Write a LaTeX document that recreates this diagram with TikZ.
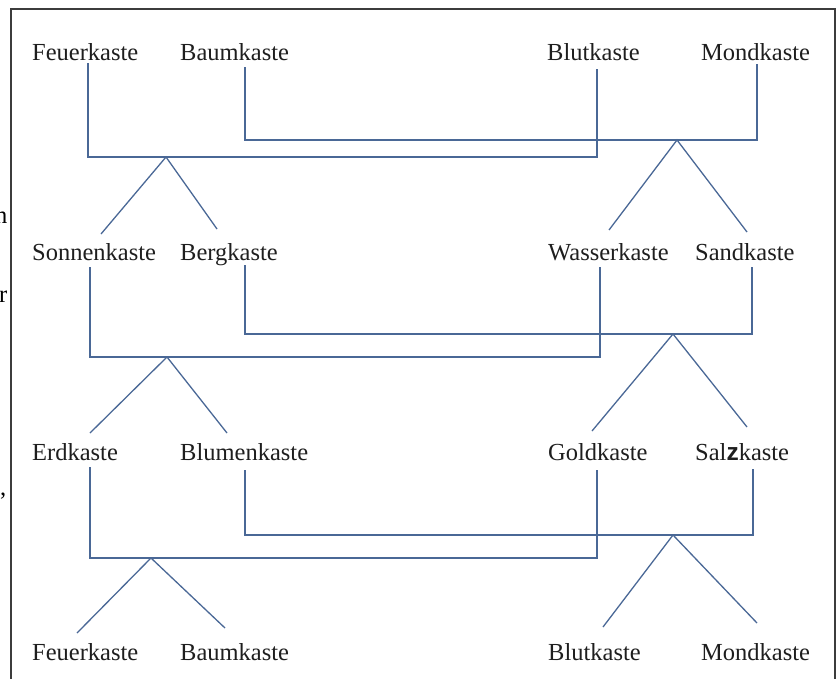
\documentclass[tikz,border=0pt]{standalone}
\usepackage{fontspec}
\setmainfont{Liberation Serif}
\newfontfamily\zfont{Liberation Sans}
\definecolor{linec}{RGB}{74,104,150}
\definecolor{framec}{RGB}{60,60,60}
\definecolor{txtc}{RGB}{30,30,30}
\begin{document}
\begin{tikzpicture}[x=1pt,y=-1pt,
  lbl/.style={anchor=base west, inner sep=0pt, font=\fontsize{24.5}{28}\selectfont, text=txtc},
  edgeglyph/.style={anchor=base east, inner sep=0pt, font=\fontsize{24.5}{28}\selectfont, text=black},
  conn/.style={draw=linec, line width=1.3pt, line join=miter}]
\useasboundingbox (0,0) rectangle (840,678);
\clip (0,0) rectangle (840,678);
% frame
\coordinate (fbl) at (11,690);
\coordinate (ftl) at (11,9);
\coordinate (ftr) at (835,9);
\coordinate (fbr) at (835,690);
\draw[framec, line width=1.2pt] (fbl) -- (ftl) -- (ftr) -- (fbr);
% cut-off glyphs at the left edge
\node[edgeglyph] (g1) at (7.5,223) {n};
\node[edgeglyph] (g2) at (7.5,302) {r};
\node[edgeglyph] (g3) at (6.5,495) {,};
% row 1
\node[lbl] (r1a) at (32,60) {Feuerkaste};
\node[lbl] (r1b) at (180,60) {Baumkaste};
\node[lbl] (r1c) at (547,60) {Blutkaste};
\node[lbl] (r1d) at (701,60) {Mondkaste};
% row 2
\node[lbl] (r2a) at (32,260) {Sonnenkaste};
\node[lbl] (r2b) at (180,260) {Bergkaste};
\node[lbl] (r2c) at (548,260) {Wasserkaste};
\node[lbl] (r2d) at (695,260) {Sandkaste};
% row 3
\node[lbl] (r3a) at (32,460) {Erdkaste};
\node[lbl] (r3b) at (180,460) {Blumenkaste};
\node[lbl] (r3c) at (548,460) {Goldkaste};
\node[lbl] (r3d) at (695,460) {Sal{\zfont\bfseries z}kaste};
% row 4
\node[lbl] (r4a) at (32,660) {Feuerkaste};
\node[lbl] (r4b) at (180,660) {Baumkaste};
\node[lbl] (r4c) at (548,660) {Blutkaste};
\node[lbl] (r4d) at (701,660) {Mondkaste};

% ---- row 1 connectors
\coordinate (p1a) at (88,63);   \coordinate (q1a) at (88,157);
\coordinate (p1c) at (597,69);  \coordinate (q1c) at (597,157);
\coordinate (L1) at (166,157);
\coordinate (p1b) at (245,67);  \coordinate (q1b) at (245,140);
\coordinate (p1d) at (757,64);  \coordinate (q1d) at (757,140);
\coordinate (R1) at (677,140);
\draw[conn] (p1a) -- (q1a) -- (q1c) -- (p1c);
\draw[conn] (p1b) -- (q1b) -- (q1d) -- (p1d);
\coordinate (e1a) at (101,234); \coordinate (e1b) at (217,229);
\coordinate (e1c) at (609,230); \coordinate (e1d) at (747,232);
\draw[conn] (e1a) -- (L1) -- (e1b);
\draw[conn] (e1c) -- (R1) -- (e1d);

% ---- row 2 connectors
\coordinate (p2a) at (90,267);  \coordinate (q2a) at (90,357);
\coordinate (p2c) at (600,267); \coordinate (q2c) at (600,357);
\coordinate (L2) at (167,357);
\coordinate (p2b) at (245,265); \coordinate (q2b) at (245,334);
\coordinate (p2d) at (752,267); \coordinate (q2d) at (752,334);
\coordinate (R2) at (673,334);
\draw[conn] (p2a) -- (q2a) -- (q2c) -- (p2c);
\draw[conn] (p2b) -- (q2b) -- (q2d) -- (p2d);
\coordinate (e2a) at (90,433);  \coordinate (e2b) at (227,433);
\coordinate (e2c) at (592,431); \coordinate (e2d) at (747,427);
\draw[conn] (e2a) -- (L2) -- (e2b);
\draw[conn] (e2c) -- (R2) -- (e2d);

% ---- row 3 connectors
\coordinate (p3a) at (90,467);  \coordinate (q3a) at (90,558);
\coordinate (p3c) at (597,470); \coordinate (q3c) at (597,558);
\coordinate (L3) at (151,558);
\coordinate (p3b) at (245,470); \coordinate (q3b) at (245,535);
\coordinate (p3d) at (753,469); \coordinate (q3d) at (753,535);
\coordinate (R3) at (673,535);
\draw[conn] (p3a) -- (q3a) -- (q3c) -- (p3c);
\draw[conn] (p3b) -- (q3b) -- (q3d) -- (p3d);
\coordinate (e3a) at (77,633);  \coordinate (e3b) at (225,628);
\coordinate (e3c) at (603,627); \coordinate (e3d) at (757,623);
\draw[conn] (e3a) -- (L3) -- (e3b);
\draw[conn] (e3c) -- (R3) -- (e3d);
\end{tikzpicture}
\end{document}
